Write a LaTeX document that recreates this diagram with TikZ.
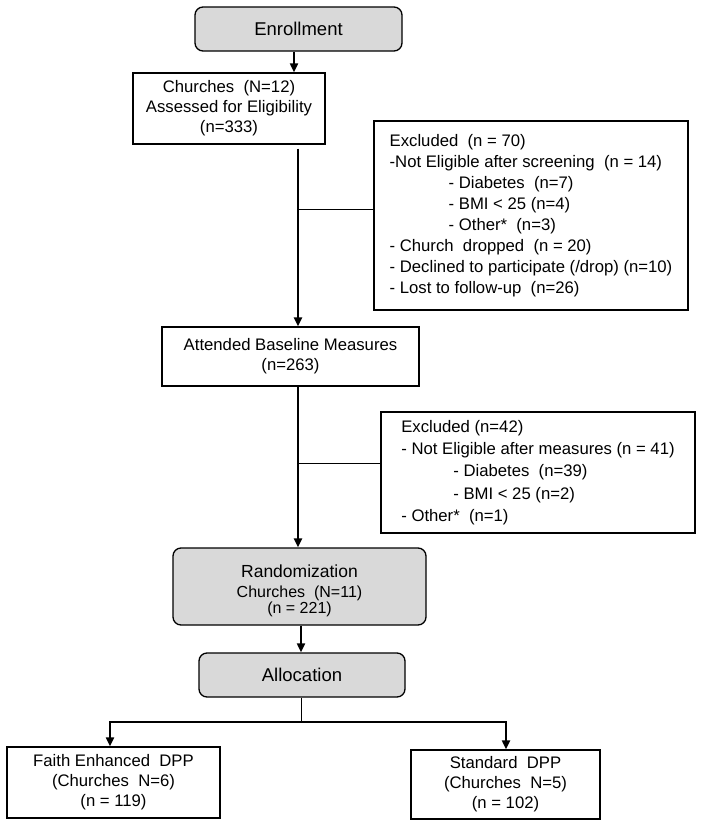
\documentclass[tikz,border=0pt]{standalone}
\usepackage{fontspec}
\setmainfont{Liberation Sans}
\usetikzlibrary{arrows.meta}

\tikzset{
  box/.style={draw, line width=1.3pt, align=center, inner sep=0pt,
    font=\fontsize{16.7}{20}\selectfont},
  greybox/.style={box, fill=gray!30, rounded corners=8pt},
  exclbox/.style={draw, line width=1.3pt, align=left, inner sep=0pt,
    minimum width=314pt},
  arr/.style={-{Triangle[length=9pt,width=8pt]}, line width=2pt},
  spine/.style={line width=2.6pt},
  link/.style={line width=1pt},
}

\begin{document}
\begin{tikzpicture}[x=1pt,y=-1pt]
  \useasboundingbox (0,0) rectangle (704,827);

  \node[greybox, minimum width=207pt, minimum height=44pt,
    font=\fontsize{18.5}{20}\selectfont] (Enroll) at (298.5,29) {Enrollment};

  \node[box, minimum width=192pt, minimum height=71pt] (Church) at (229,108.5)
    {Churches\ \ (N=12)\\ Assessed for Eligibility\\ (n=333)};

  \node[exclbox, minimum height=189pt,
    font=\fontsize{16.7}{21}\selectfont] (ExclA) at (531,215.5)
    {Excluded\ \ (n = 70)\\
     -Not Eligible after screening\ \ (n = 14)\\
     \hspace*{59pt}- Diabetes\ \ (n=7)\\
     \hspace*{59pt}- BMI < 25 (n=4)\\
     \hspace*{59pt}- Other*\ \ (n=3)\\
     - Church\ \ dropped\ \ (n = 20)\\
     - Declined to participate (/drop) (n=10)\\
     - Lost to follow-up\ \ (n=26)};

  \node[box, minimum width=257pt, minimum height=59pt] (Base) at (290.5,356.5)
    {Attended Baseline Measures\\ (n=263)};

  \node[exclbox, minimum height=121pt,
    font=\fontsize{16.7}{22.25}\selectfont] (ExclB) at (538,472.5)
    {Excluded (n=42)\\
     - Not Eligible after measures (n = 41)\\
     \hspace*{52pt}- Diabetes\ \ (n=39)\\
     \hspace*{52pt}- BMI < 25 (n=2)\\
     - Other*\ \ (n=1)\hspace*{155pt}};

  \node[greybox, minimum width=253pt, minimum height=77pt] (Random) at (299.5,586.5) {};
  \node[align=center, inner sep=0pt, font=\fontsize{16}{18}\selectfont]
    (RandomText) at (299.5,591)
    {{\fontsize{17.5}{18}\selectfont Randomization}\\[2pt]
     Churches\ \ (N=11)\\[-2pt]
     (n = 221)};

  \node[greybox, minimum width=206pt, minimum height=44pt,
    font=\fontsize{18.5}{20}\selectfont] (Alloc) at (302,675) {Allocation};

  \node[box, minimum width=213pt, minimum height=71pt] (Faith) at (113.5,782.5)
    {Faith Enhanced\ \ DPP\\ (Churches\ \ N=6)\\ (n = 119)};
  \node[box, minimum width=189pt, minimum height=69pt] (Standard) at (505.5,784.5)
    {Standard\ \ DPP\\ (Churches\ \ N=5)\\ (n = 102)};

  % junction points on the main line
  \coordinate (JA) at (298,209);
  \coordinate (JB) at (298,463);
  \coordinate (Split) at (301,722);

  \draw[arr] ([xshift=-4.5pt]Enroll.south) -- ([xshift=-4.5pt]Enroll.south |- Church.north);

  \draw[spine] (JA |- Church.south) ++(0,4) -- (JA);
  \draw[spine, arr, line width=2.6pt] (JA) -- (JA |- Base.north);
  \draw[link] (JA) -- (ExclA.west |- JA);

  \draw[spine] (JB |- Base.south) -- (JB);
  \draw[spine, arr, line width=2.6pt] (JB) -- (JB |- Random.north);
  \draw[link] (JB) -- (ExclB.west |- JB);

  \draw[arr] (Split |- Random.south) -- (Split |- Alloc.north);

  \draw[link] (Split |- Alloc.south) -- (Split);
  \draw[arr] (Split) -| (Faith.north -| 110,0);
  \draw[arr] (Split) -| (Standard.north -| 506,0);
\end{tikzpicture}
\end{document}
